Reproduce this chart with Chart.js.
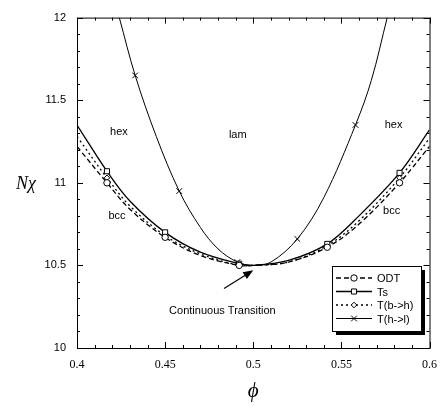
<!DOCTYPE html>
<html>
<head>
<meta charset="utf-8">
<script src="https://cdn.jsdelivr.net/npm/chart.js@4.4.1/dist/chart.umd.min.js"></script>
<style>
  html, body { margin: 0; padding: 0; background: #fff; }
  canvas { display: block; }
</style>
</head>
<body>
<canvas id="c" width="447" height="408"></canvas>
<script>
// phase boundaries, values
const phiBcc = [0.40, 0.417, 0.43, 0.45, 0.47, 0.492, 0.50, 0.52, 0.542, 0.56, 0.583, 0.60];
const odtVals = [11.22, 11.00, 10.84, 10.67, 10.56, 10.50, 10.50, 10.52, 10.61, 10.75, 11.00, 11.22];
const tsVals = [11.35, 11.07, 10.89, 10.70, 10.58, 10.51, 10.50, 10.53, 10.63, 10.80, 11.06, 11.32];
const tbhVals = [11.28, 11.03, 10.86, 10.68, 10.57, 10.50, 10.50, 10.52, 10.62, 10.77, 11.03, 11.27];
const bccMarkerPhi = [0.417, 0.45, 0.492, 0.542, 0.583];

const phiLam = [0.424, 0.433, 0.445, 0.458, 0.47, 0.48, 0.491, 0.50, 0.51, 0.525, 0.54, 0.558, 0.567, 0.576];
const thlVals = [12.0, 11.65, 11.28, 10.95, 10.73, 10.60, 10.52, 10.50, 10.52, 10.66, 10.91, 11.35, 11.62, 12.0];
const lamMarkerPhi = [0.433, 0.458, 0.491, 0.525, 0.558];

const xTickLabels = ['0.4', '0.45', '0.5', '0.55', '0.6'];
const yTickLabels = ['10', '10.5', '11', '11.5', '12'];

const regionLabels = [
  { text: 'hex', x: 0.4238, y: 11.31 },
  { text: 'lam', x: 0.4912, y: 11.29 },
  { text: 'hex', x: 0.5796, y: 11.35 },
  { text: 'bcc', x: 0.4227, y: 10.80 },
  { text: 'bcc', x: 0.5785, y: 10.83 },
];

const pts = (xs, ys) => xs.map((x, i) => ({ x, y: ys[i] }));
const markerRadius = (marks, r) => (ctx) => (ctx.raw && marks.includes(ctx.raw.x) ? r : 0);

function lineSet(label, xs, ys, marks, style, r, dash, width) {
  return {
    label,
    data: pts(xs, ys),
    borderColor: '#000',
    borderWidth: width,
    borderDash: dash,
    backgroundColor: '#fff',
    pointStyle: style,
    pointRadius: markerRadius(marks, r),
    pointBorderColor: '#000',
    pointBackgroundColor: '#fff',
    pointBorderWidth: 1,
    pointHoverRadius: 0,
    tension: 0.35,
    fill: false,
    legendRadius: r,
  };
}

const frame = {
  id: 'frame',
  afterDatasetsDraw(chart) {
    const { ctx, chartArea: a, scales: { x, y } } = chart;
    ctx.save();
    ctx.strokeStyle = '#000';
    ctx.lineWidth = 1;
    ctx.strokeRect(a.left + 0.5, a.top + 0.5, a.right - a.left, a.bottom - a.top);

    // inside ticks on all four sides
    ctx.beginPath();
    for (let i = 0; i <= 20; i++) {
      const px = Math.round(x.getPixelForValue(0.4 + i * 0.01)) + 0.5;
      const len = i % 5 === 0 ? 6 : 3;
      ctx.moveTo(px, a.bottom); ctx.lineTo(px, a.bottom - len);
      ctx.moveTo(px, a.top); ctx.lineTo(px, a.top + len);
    }
    for (let i = 0; i <= 20; i++) {
      const py = Math.round(y.getPixelForValue(10 + i * 0.1)) + 0.5;
      const len = i % 5 === 0 ? 6 : 3;
      ctx.moveTo(a.left, py); ctx.lineTo(a.left + len, py);
      ctx.moveTo(a.right, py); ctx.lineTo(a.right - len, py);
    }
    ctx.stroke();

    // region labels
    ctx.fillStyle = '#000';
    ctx.font = '11px "Liberation Sans", Arial, sans-serif';
    ctx.textAlign = 'center';
    ctx.textBaseline = 'middle';
    regionLabels.forEach((l) => ctx.fillText(l.text, x.getPixelForValue(l.x), y.getPixelForValue(l.y)));

    // continuous transition arrow
    const tx = x.getPixelForValue(0.4834), ty = y.getPixelForValue(10.36);
    const hx = x.getPixelForValue(0.5), hy = y.getPixelForValue(10.47);
    const ang = Math.atan2(hy - ty, hx - tx);
    ctx.beginPath();
    ctx.moveTo(tx, ty);
    ctx.lineTo(hx - 7 * Math.cos(ang), hy - 7 * Math.sin(ang));
    ctx.lineWidth = 1.2;
    ctx.stroke();
    ctx.beginPath();
    ctx.moveTo(hx, hy);
    ctx.lineTo(hx - 10 * Math.cos(ang) + 4 * Math.sin(ang), hy - 10 * Math.sin(ang) - 4 * Math.cos(ang));
    ctx.lineTo(hx - 10 * Math.cos(ang) - 4 * Math.sin(ang), hy - 10 * Math.sin(ang) + 4 * Math.cos(ang));
    ctx.closePath();
    ctx.fill();
    ctx.fillText('Continuous Transition', x.getPixelForValue(0.4825), y.getPixelForValue(10.225));

    // axis titles
    ctx.font = 'italic 18px "Liberation Serif", "Times New Roman", serif';
    ctx.fillText('Nχ', 26, (a.top + a.bottom) / 2 + 1);
    ctx.font = 'italic 21px "Liberation Serif", "Times New Roman", serif';
    ctx.fillText('ϕ', (a.left + a.right) / 2, a.bottom + 43);

    // legend with drop shadow
    const bx = 332, by = 266, bw = 89, bh = 65;
    ctx.fillRect(bx + 4, by + 4, bw, bh);
    ctx.fillStyle = '#fff';
    ctx.fillRect(bx, by, bw, bh);
    ctx.lineWidth = 1;
    ctx.strokeRect(bx + 0.5, by + 0.5, bw, bh);
    ctx.font = '11px "Liberation Sans", Arial, sans-serif';
    ctx.textAlign = 'left';
    chart.data.datasets.forEach((ds, i) => {
      const ly = by + 12 + i * 13.5;
      ctx.strokeStyle = '#000';
      ctx.lineWidth = ds.borderWidth;
      ctx.setLineDash(ds.borderDash || []);
      ctx.beginPath();
      ctx.moveTo(bx + 4, ly); ctx.lineTo(bx + 40, ly);
      ctx.stroke();
      ctx.setLineDash([]);
      ctx.fillStyle = '#fff';
      ctx.lineWidth = 1;
      Chart.helpers.drawPoint(ctx, { pointStyle: ds.pointStyle, radius: ds.legendRadius, rotation: 0, borderWidth: 1 }, bx + 22, ly);
      ctx.fillStyle = '#000';
      ctx.fillText(ds.label, bx + 45, ly + 1);
    });
    ctx.restore();
  },
};

const datasets = [
  lineSet('ODT', phiBcc, odtVals, bccMarkerPhi, 'circle', 3.2, [5, 3], 1.3),
  lineSet('Ts', phiBcc, tsVals, bccMarkerPhi, 'rect', 3.6, [], 1.3),
  lineSet('T(b->h)', phiBcc, tbhVals, bccMarkerPhi, 'rectRot', 2.8, [2, 3], 1.3),
  lineSet('T(h->l)', phiLam, thlVals, lamMarkerPhi, 'crossRot', 4, [], 1),
];

new Chart(document.getElementById('c').getContext('2d'), {
  type: 'line',
  data: { datasets },
  options: {
    responsive: false,
    animation: false,
    events: [],
    layout: { padding: { top: 15, right: 8, left: 0, bottom: 0 } },
    plugins: { legend: { display: false }, tooltip: { enabled: false } },
    scales: {
      x: {
        type: 'linear',
        min: 0.4,
        max: 0.6,
        grid: { display: false, drawTicks: false },
        border: { display: false },
        afterBuildTicks: (s) => { s.ticks = xTickLabels.map((t) => ({ value: parseFloat(t) })); },
        afterFit: (s) => { s.height = 60; },
        ticks: {
          maxRotation: 0,
          autoSkip: false,
          padding: 10,
          color: '#000',
          font: { family: '"Liberation Serif", "Times New Roman", serif', size: 12 },
          callback: (v) => xTickLabels.find((t) => Math.abs(parseFloat(t) - v) < 1e-9),
        },
      },
      y: {
        type: 'linear',
        min: 10,
        max: 12,
        grid: { display: false, drawTicks: false },
        border: { display: false },
        afterBuildTicks: (s) => { s.ticks = yTickLabels.map((t) => ({ value: parseFloat(t) })); },
        afterFit: (s) => { s.width = 77; },
        ticks: {
          autoSkip: false,
          padding: 11,
          color: '#000',
          font: { family: '"Liberation Sans", Arial, sans-serif', size: 11 },
          callback: (v) => yTickLabels.find((t) => Math.abs(parseFloat(t) - v) < 1e-9),
        },
      },
    },
  },
  plugins: [frame],
});
</script>
</body>
</html>
